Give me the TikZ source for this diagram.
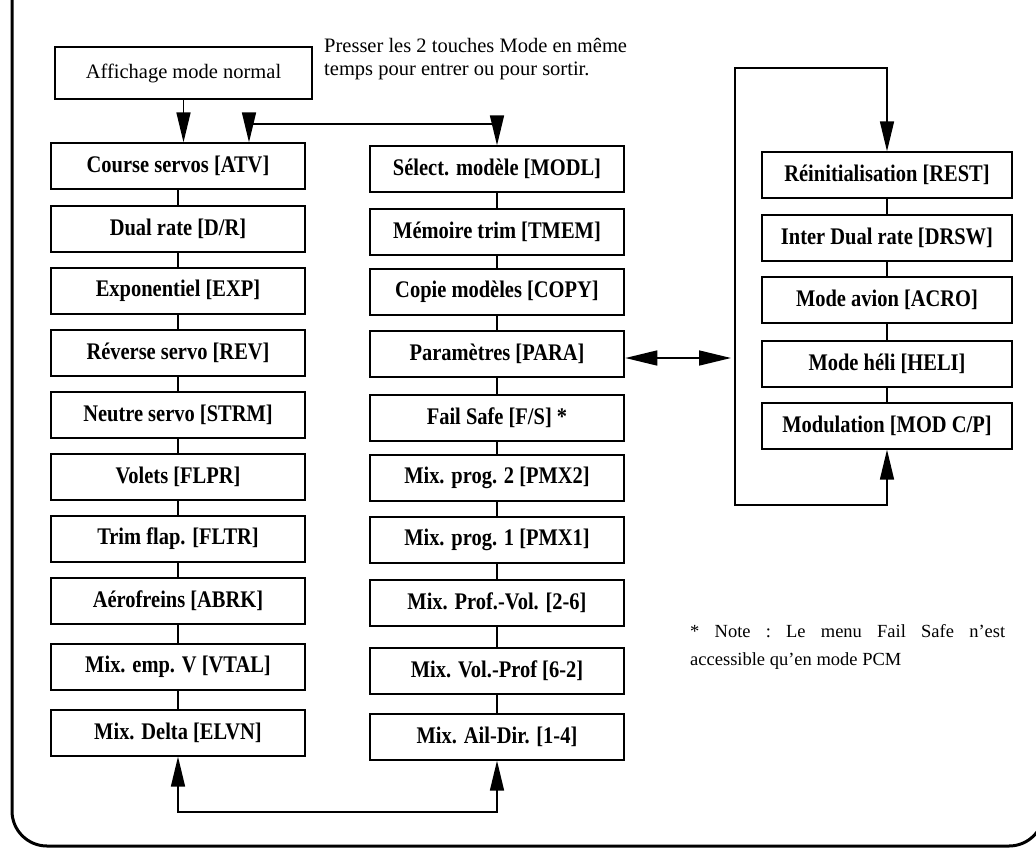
\documentclass[tikz,border=0pt]{standalone}
\usepackage{fontspec}
\setmainfont{Liberation Serif}
\newfontfamily\lblfont{Liberation Serif}[FakeStretch=0.86]
\usetikzlibrary{arrows.meta}
\begin{document}
\begin{tikzpicture}[x=1pt,y=-1pt,
  mbox/.style={draw, line width=1.3pt, minimum width=254pt, minimum height=46pt, inner sep=0pt,
    font=\lblfont\fontsize{23.8}{26}\selectfont\bfseries},
  rbox/.style={mbox, minimum width=250pt},
  thickbox/.style={line width=2.6pt},
  link/.style={line width=1.6pt},
  tip/.tip={Triangle[length=30pt,width=14pt]},
  arr/.style={link, -tip},
  dbl/.style={link, tip-tip},
]
\useasboundingbox (0,0) rectangle (1036,849);
\clip (0,0) rectangle (1036,849);

% outer frame
\draw[line width=3pt, rounded corners=35pt] (12,-60) -- (12,846) -- (1044,846) -- (1044,-60);

% top
\node[draw, thickbox, minimum width=257pt, minimum height=52pt, inner sep=0pt,
  font=\fontsize{20.5}{24}\selectfont] (aff) at (183.5,73) {Affichage mode normal};
\node[anchor=north west, align=left, inner sep=0pt,
  font=\fontsize{20.5}{23}\selectfont] (txt) at (324,38)
  {Presser les 2 touches Mode en même\\temps pour entrer ou pour sortir.};

% left column
\node[mbox] (l1) at (178,166) {Course servos [ATV]};
\node[mbox] (l2) at (178,229) {Dual rate [D/R]};
\node[mbox] (l3) at (178,291) {Exponentiel [EXP]};
\node[mbox] (l4) at (178,353) {Réverse servo [REV]};
\node[mbox] (l5) at (178,415) {Neutre servo [STRM]};
\node[mbox] (l6) at (178,477) {Volets [FLPR]};
\node[mbox] (l7) at (178,539) {Trim flap. [FLTR]};
\node[mbox] (l8) at (178,601) {Aérofreins [ABRK]};
\node[mbox] (l9) at (178,667) {Mix. emp. V [VTAL]};
\node[mbox] (l10) at (178,733) {Mix. Delta [ELVN]};

% middle column
\node[mbox] (m1) at (497,169) {Sélect. modèle [MODL]};
\node[mbox] (m2) at (497,232) {Mémoire trim [TMEM]};
\node[mbox] (m3) at (497,292) {Copie modèles [COPY]};
\node[mbox, thickbox] (m4) at (497,354) {Paramètres [PARA]};
\node[mbox] (m5) at (497,418) {Fail Safe [F/S] *};
\node[mbox] (m6) at (497,478) {Mix. prog. 2 [PMX2]};
\node[mbox] (m7) at (497,540) {Mix. prog. 1 [PMX1]};
\node[mbox] (m8) at (497,603) {Mix. Prof.-Vol. [2-6]};
\node[mbox] (m9) at (497,671) {Mix. Vol.-Prof [6-2]};
\node[mbox] (m10) at (497,737) {Mix. Ail-Dir. [1-4]};

% right column
\node[rbox] (r1) at (887,175) {Réinitialisation [REST]};
\node[rbox] (r2) at (887,238) {Inter Dual rate [DRSW]};
\node[rbox] (r3) at (887,300) {Mode avion [ACRO]};
\node[rbox] (r4) at (887,364) {Mode héli [HELI]};
\node[rbox] (r5) at (887,426) {Modulation [MOD C/P]};

% column links
\foreach \a/\b in {l1/l2,l2/l3,l3/l4,l4/l5,l5/l6,l6/l7,l7/l8,l8/l9,l9/l10,
                   m1/m2,m2/m3,m3/m4,m4/m5,m5/m6,m6/m7,m7/m8,m8/m9,m9/m10,
                   r1/r2,r2/r3,r3/r4,r4/r5}
  \draw[link] (\a) -- (\b);

% top arrows
\draw[arr] (aff.south) -- (aff.south |- l1.north);
\coordinate (tl) at (249,124);
\coordinate (tr) at (m1.north |- tl);
\draw[dbl] (tl |- l1.north) -- (tl) -- (tr) -- (m1.north);

% bottom loop
\coordinate (bl) at (l10.south |- 0,812);
\coordinate (br) at (m10.south |- 0,812);
\draw[dbl] (l10.south) -- (bl) -- (br) -- (m10.south);

% right loop
\coordinate (lt) at (735,68);
\coordinate (lb) at (735,505);
\draw[dbl] (r1.north) -- (r1.north |- lt) -- (lt) -- (lb) -- (lb -| r5.south) -- (r5.south);

% PARA link
\draw[link, {Triangle[length=32pt,width=15pt]}-{Triangle[length=32pt,width=15pt]}, shorten >=4pt]
  ([yshift=-4pt]m4.east) -- ([yshift=-4pt]m4.east -| lt);

% note
\node[anchor=north west, align=left, inner sep=0pt,
  font=\fontsize{18.5}{28}\selectfont\frenchspacing] (note) at (690,624)
  {\makebox[315pt][s]{* Note : Le menu Fail Safe n'est}\\accessible qu'en mode PCM};
\end{tikzpicture}
\end{document}
